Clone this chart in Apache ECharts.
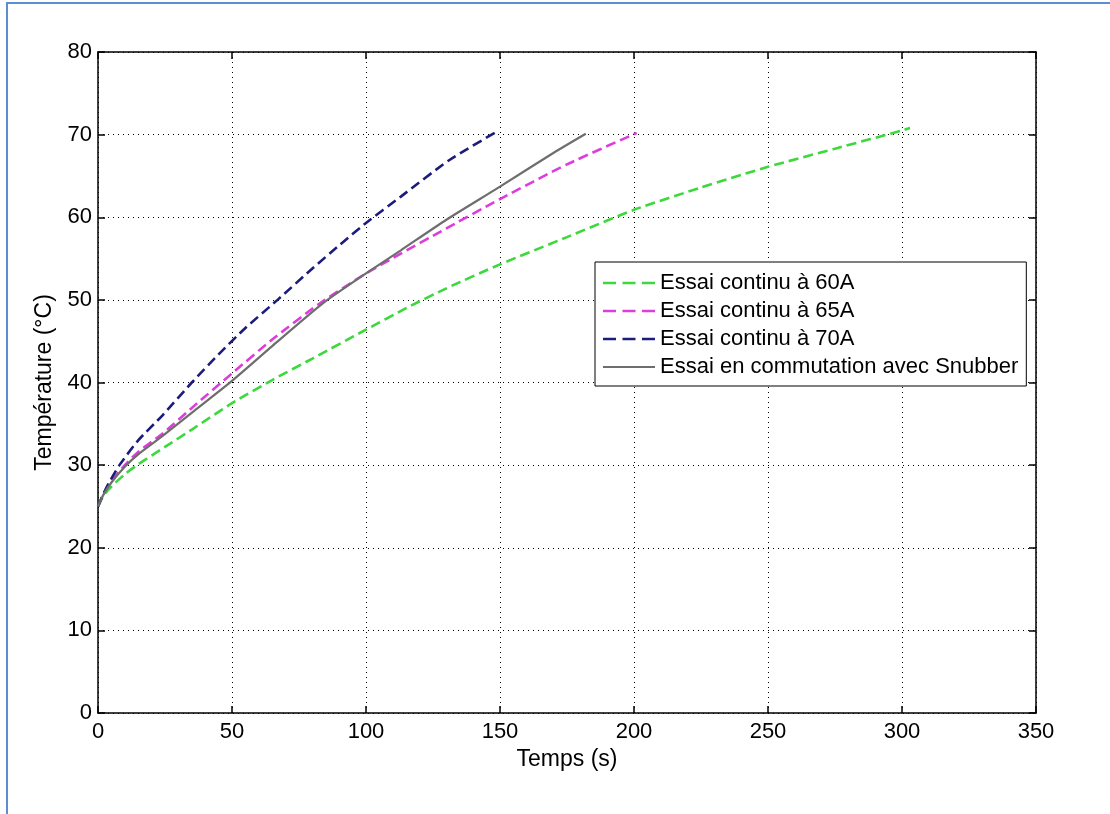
<!DOCTYPE html>
<html>
<head>
<meta charset="utf-8">
<script src="https://cdn.jsdelivr.net/npm/echarts@6/dist/echarts.min.js"></script>
<style>
html,body{margin:0;padding:0;background:#fff;}
#chart{width:1110px;height:814px;}
</style>
</head>
<body>
<div id="chart"></div>
<script>
// ---- Data ----
const seriesNames = ['Essai continu à 60A', 'Essai continu à 65A', 'Essai continu à 70A', 'Essai en commutation avec Snubber'];

const time60 = [0, 2, 5, 10, 15, 25, 35, 50, 65, 80, 100, 115, 130, 150, 175, 200, 225, 250, 275, 300, 303];
const temp60 = [25, 26.3, 27.4, 28.9, 30.1, 32.2, 34.3, 37.5, 40.3, 42.9, 46.4, 49.0, 51.4, 54.3, 57.6, 60.9, 63.6, 66.1, 68.3, 70.5, 70.8];

const time65 = [0, 2, 5, 10, 15, 24, 36, 50, 65, 82, 100, 113, 128, 150, 175, 201];
const temp65 = [25, 26.5, 28.1, 30.0, 31.6, 33.8, 37.2, 41.1, 45.2, 49.4, 53.2, 55.6, 58.3, 62.2, 66.4, 70.2];

const time70 = [0, 2, 4, 8, 15, 24, 35, 45, 55, 67, 80, 90, 100, 113, 131, 149];
const temp70 = [25, 26.5, 27.8, 30.0, 33.0, 36.0, 40.0, 43.4, 46.6, 50.0, 53.8, 56.6, 59.3, 62.5, 66.9, 70.4];

const timeSnub = [0, 2, 5, 10, 15, 24, 36, 50, 65, 84, 100, 113, 130, 150, 169, 182];
const tempSnub = [25, 26.4, 27.9, 29.8, 31.3, 33.5, 36.6, 40.2, 44.4, 49.6, 53.2, 56.0, 59.7, 63.7, 67.6, 70.1];

const xTicks = { min: 0, max: 350, interval: 50 };
const yTicks = { min: 0, max: 80, interval: 10 };

const xName = 'Temps (s)';
const yName = 'Température (°C)';

// ---- Chart ----
const zip = (xs, ys) => xs.map((x, i) => [x, ys[i]]);
const FONT = 'Liberation Sans, Arial, sans-serif';
const FS = 22;
const FS_NAME = 23;
const chart = echarts.init(document.getElementById('chart'), null, { renderer: 'canvas' });

const dashed = (color) => ({ color: color, width: 2.6, type: [10, 5] });
const dashIcon = 'path://M0,0H13V2.6H0Z M19.5,0H32.5V2.6H19.5Z M39,0H52V2.6H39Z';
const solidIcon = 'path://M0,0H52V2.2H0Z';

const colors = ['#3cd83c', '#dd3ddd', '#1c1c7c', '#6e6e6e'];

const option = {
  animation: false,
  backgroundColor: '#fff',
  textStyle: { fontFamily: FONT, color: '#000' },
  graphic: [
    { type: 'line', shape: { x1: 6, y1: 3, x2: 1110, y2: 3 }, style: { stroke: '#5b8fd2', lineWidth: 2 }, silent: true },
    { type: 'line', shape: { x1: 7, y1: 3, x2: 7, y2: 814 }, style: { stroke: '#5b8fd2', lineWidth: 2 }, silent: true }
  ],
  grid: { left: 98, top: 52, width: 938, height: 661, containLabel: false, show: false },
  legend: {
    orient: 'vertical',
    left: 595,
    top: 262,
    data: [
      { name: seriesNames[0], icon: dashIcon },
      { name: seriesNames[1], icon: dashIcon },
      { name: seriesNames[2], icon: dashIcon },
      { name: seriesNames[3], icon: solidIcon }
    ],
    itemWidth: 52,
    itemHeight: 14,
    itemGap: 6,
    padding: [10, 8, 8, 8],
    backgroundColor: '#fff',
    borderColor: '#000',
    borderWidth: 1,
    borderRadius: 0,
    textStyle: { fontFamily: FONT, fontSize: FS, color: '#000' }
  },
  xAxis: [
    {
      type: 'value', min: xTicks.min, max: xTicks.max, interval: xTicks.interval,
      name: xName, nameLocation: 'middle', nameGap: 35,
      nameTextStyle: { fontFamily: FONT, fontSize: FS_NAME, color: '#000' },
      axisLine: { show: true, onZero: false, lineStyle: { color: '#000', width: 1.5 } },
      axisTick: { show: true, inside: true, length: 7, lineStyle: { color: '#000', width: 1.5 } },
      axisLabel: { fontFamily: FONT, fontSize: FS, color: '#000', margin: 8 },
      splitLine: { show: true, lineStyle: { color: '#000', width: 1, type: [1, 4] } }
    },
    {
      type: 'value', position: 'top', min: xTicks.min, max: xTicks.max, interval: xTicks.interval,
      axisLine: { show: true, onZero: false, lineStyle: { color: '#000', width: 1.5 } },
      axisTick: { show: true, inside: true, length: 7, lineStyle: { color: '#000', width: 1.5 } },
      axisLabel: { show: false },
      splitLine: { show: false }
    }
  ],
  yAxis: [
    {
      type: 'value', min: yTicks.min, max: yTicks.max, interval: yTicks.interval,
      name: yName, nameLocation: 'middle', nameGap: 39, nameRotate: 90,
      nameTextStyle: { fontFamily: FONT, fontSize: FS_NAME, color: '#000' },
      axisLine: { show: true, onZero: false, lineStyle: { color: '#000', width: 1.5 } },
      axisTick: { show: true, inside: true, length: 7, lineStyle: { color: '#000', width: 1.5 } },
      axisLabel: { fontFamily: FONT, fontSize: FS, color: '#000', margin: 6 },
      splitLine: { show: true, lineStyle: { color: '#000', width: 1, type: [1, 4] } }
    },
    {
      type: 'value', position: 'right', min: yTicks.min, max: yTicks.max, interval: yTicks.interval,
      axisLine: { show: true, onZero: false, lineStyle: { color: '#000', width: 1.5 } },
      axisTick: { show: true, inside: true, length: 7, lineStyle: { color: '#000', width: 1.5 } },
      axisLabel: { show: false },
      splitLine: { show: false }
    }
  ],
  series: [
    {
      name: seriesNames[0], type: 'line', data: zip(time60, temp60), smooth: 0.2,
      showSymbol: false, symbol: 'none', color: colors[0],
      lineStyle: dashed(colors[0])
    },
    {
      name: seriesNames[1], type: 'line', data: zip(time65, temp65), smooth: 0.2,
      showSymbol: false, symbol: 'none', color: colors[1],
      lineStyle: dashed(colors[1])
    },
    {
      name: seriesNames[2], type: 'line', data: zip(time70, temp70), smooth: 0.2,
      showSymbol: false, symbol: 'none', color: colors[2],
      lineStyle: dashed(colors[2])
    },
    {
      name: seriesNames[3], type: 'line', data: zip(timeSnub, tempSnub), smooth: 0.2,
      showSymbol: false, symbol: 'none', color: colors[3],
      lineStyle: { color: colors[3], width: 2.2, type: 'solid' }
    }
  ]
};
chart.setOption(option);
</script>
</body>
</html>
